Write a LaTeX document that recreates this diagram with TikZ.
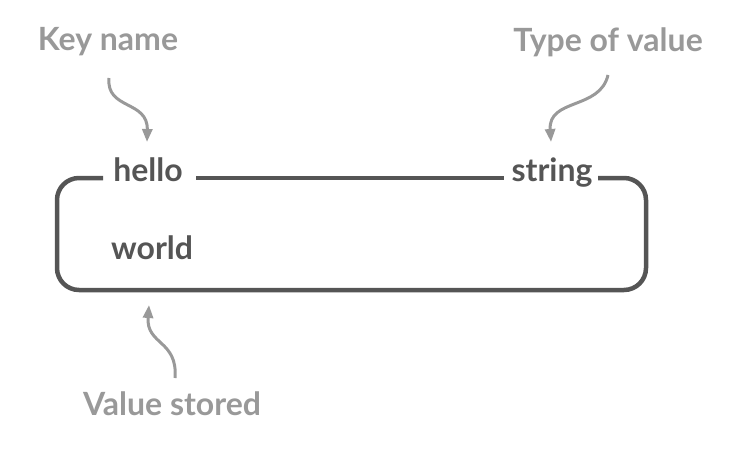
\documentclass[tikz,border=0pt]{standalone}
\usepackage{fontspec}
\setmainfont{Lato}
\usetikzlibrary{arrows.meta}
\definecolor{dark}{HTML}{555555}
\definecolor{light}{HTML}{999999}
\begin{document}
\begin{tikzpicture}[x=1pt,y=-1pt,
  lbl/.style={text=light,font=\fontsize{32}{36}\selectfont\bfseries,inner sep=0pt},
  val/.style={text=dark,font=\fontsize{32}{36}\selectfont\bfseries,inner sep=0pt},
  boxline/.style={draw=dark,line width=4.5pt},
  pointer/.style={draw=light,line width=3pt,-{Triangle[length=13pt,width=10pt]}}]
\useasboundingbox (0,0) rectangle (751,460);
\node[lbl] (keyname) at (108,42) {Key name};
\node[lbl] (typeof) at (608,42) {Type of value};
\node[lbl] (stored) at (172,404) {Value stored};
\node[val,anchor=base] (hello) at (148,181) {hello};
\node[val,anchor=base] (string) at (552,181) {string};
\node[val,anchor=west] (world) at (111,248) {world};
\coordinate (tl) at (103,178);
\coordinate (m1) at (196,178);
\coordinate (m2) at (504,178);
\coordinate (tr) at (598,178);
\draw[boxline,rounded corners=22pt] (tl) -- (57,178) -- (57,290) -- (646,290) -- (646,178) -- (tr);
\draw[boxline] (m1) -- (m2);
\draw[pointer] (109,78) .. controls (106,110) and (148,100) .. (147,142);
\draw[pointer] (608,75) .. controls (600,110) and (548,98) .. (551,142);
\draw[pointer] (175,378) .. controls (178,340) and (146,345) .. (149,305);
\end{tikzpicture}
\end{document}
